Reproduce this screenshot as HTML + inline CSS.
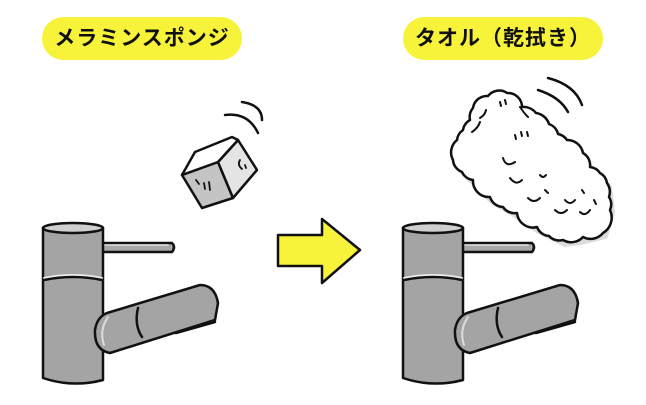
<!DOCTYPE html>
<html><head><meta charset="utf-8"><style>
html,body{margin:0;padding:0;background:#fff;}
.pill{position:absolute;height:43px;top:17px;width:200px;background:#f7f23a;border-radius:22px;font-family:"Liberation Sans","Noto Sans CJK JP",sans-serif;font-weight:bold;font-size:21px;line-height:43px;text-align:center;color:#111;letter-spacing:1px}
</style></head><body>
<div style="position:relative;width:646px;height:405px;overflow:hidden">
<div class="pill" style="left:42px">メラミンスポンジ</div>
<div class="pill" style="left:403px">タオル（乾拭き）</div>
<svg width="646" height="405" style="position:absolute;left:0;top:0" fill="none" stroke="#111" stroke-width="2.5" stroke-linejoin="round" stroke-linecap="round">
<defs>
<g id="f">
<path d="M100,243 L172,243 Q176,247 172,252 L100,252 Z" fill="#a8a8a8"/>
<line x1="104" y1="245" x2="168" y2="245" stroke="#ddd" stroke-width="1.5"/>
<path d="M43,228 L43,378 Q73,388 103,380 L103,228 Z" fill="#a4a4a4"/>
<ellipse cx="73" cy="228" rx="30" ry="5" fill="#cfcfcf"/>
<path d="M44,278 Q73,272 102,278" stroke="#eee" stroke-width="2"/>
<path d="M44,280 Q73,274 102,280"/>
<path d="M176,333 L215,322 L213,312 L180,320 Z" fill="#999"/>
<path d="M107,313 L200,285 Q215,285 218,303 L215,320 L110,353 Q94,350 95,330 Q97,317 107,313 Z" fill="#a4a4a4"/>
<path d="M138,308 Q134,325 142,337"/>
<path d="M108,317 Q99,330 104,345" stroke="#ddd" stroke-width="2"/>
</g>
</defs>
<use href="#f"/>
<use href="#f" x="360"/>
<!-- cube -->
<path d="M182,175 L218,162 L233,198 L202,208 Z" fill="#c4c4c4"/>
<path d="M218,162 L238,140 L257,170 L233,198 Z" fill="#e4e4e4"/>
<path d="M182,175 L195,152 L232,137 L238,140 L218,162 Z" fill="#fff"/>
<path d="M196,180 l3,4 M204,183 l1,6 M209,182 l1,8" stroke-width="1.8"/>
<path d="M240,160 q-3,5 2,9 M245,165 l1,3" stroke-width="1.8"/>
<path d="M225,115 Q248,112 258,133"/>
<path d="M242,102 Q262,105 262,120"/>
<!-- arrow -->
<path d="M278,235 L322,235 L322,219 L360,250 L322,283 L322,266 L278,266 Z" fill="#f7f23a"/>
<!-- towel -->
<path d="M492,99 L509,97 L524,111 L549,127 L569,144 L585,157 L592,171 L609,187 L612,212 L605,236 L585,241 L565,244 L539,231 L519,217 L492,201 L475,184 L455,164 L459,144 L472,124 L482,107 Z" fill="#dcdcdc" stroke="#dcdcdc" stroke-width="6"/>
<path d="M488,96 A14,14 0 0 1 507,93 A14,14 0 0 1 522,107 A16,16 0 0 1 536,113 A16,16 0 0 1 549,124 A14,14 0 0 1 558,134 A14,14 0 0 1 567,140 A16,16 0 0 1 583,153 A14,14 0 0 1 590,167 A14,14 0 0 1 600,173 A14,14 0 0 1 607,183 A16,16 0 0 1 609,197 A14,14 0 0 1 610,210 A18,18 0 0 1 603,233 A16,16 0 0 1 583,237 A16,16 0 0 1 563,240 A14,14 0 0 1 549,236 A14,14 0 0 1 537,227 A16,16 0 0 1 517,213 A14,14 0 0 1 503,207 A14,14 0 0 1 490,197 A16,16 0 0 1 473,180 A14,14 0 0 1 462,172 A14,14 0 0 1 453,160 A16,16 0 0 1 457,140 A14,14 0 0 1 463,130 A14,14 0 0 1 470,120 A14,14 0 0 1 473,108 A14,14 0 0 1 488,96 Z" fill="#fff"/>
<path d="M472,132 q6,-4 8,-10 M480,118 q5,-3 6,-8 M500,102 l1,4 M505,100 l1,4 M520,107 q4,6 8,10" stroke-width="2"/>
<path d="M515,135 l1,4 M521,132 l1,4 M527,132 l1,4" stroke-width="2"/>
<path d="M503,158 q3,10 12,4 M510,178 q6,8 12,2 M540,175 q3,4 6,0 M528,198 q6,6 12,0 M545,190 l3,3 M565,200 q5,6 10,0 M555,210 q6,6 12,0 M580,212 q5,5 10,-2 M594,200 l2,4 M582,190 l2,3" stroke-width="2"/>
<path d="M538,90 Q560,97 568,112"/>
<path d="M548,78 Q575,85 582,105"/>
</svg>
</div>
</body></html>
